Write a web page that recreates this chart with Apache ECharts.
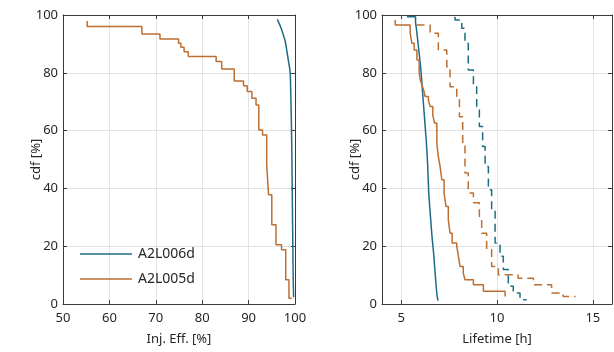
<!DOCTYPE html>
<html><head><meta charset="utf-8">
<script src="https://cdn.jsdelivr.net/npm/echarts@6/dist/echarts.min.js"></script>
<style>html,body{margin:0;padding:0;background:#fff}#c{width:614px;height:352px}</style>
</head><body><div id="c"></div>
<script>
// Left panel: injection efficiency survival-style cdf
var leftXTicks = [50, 60, 70, 80, 90, 100];
var yTicks = [0, 20, 40, 60, 80, 100];
var a006EffX = [96.2, 96.6, 97.0, 97.3, 97.6, 97.9, 98.1, 98.3, 98.5, 98.7, 98.9, 99.0, 99.1, 99.2, 99.3, 99.4, 99.5, 99.6, 99.7, 99.75];
var a006EffY = [98.5, 97.0, 95.5, 94.0, 92.5, 91.0, 89.0, 87.0, 85.0, 83.0, 81.0, 79.0, 72.0, 65.0, 55.0, 40.0, 25.0, 10.0, 2.3, 2.3];
var a005EffX = [55.2, 55.2, 67.0, 70.9, 74.9, 75.4, 76.1, 77.0, 83.0, 84.2, 86.9, 88.9, 89.7, 90.7, 91.6, 92.2, 93.0, 93.9, 94.3, 95.0, 95.9, 97.1, 98.0, 98.7, 99.3];
var a005EffY = [97.9, 96.0, 93.4, 91.7, 90.2, 88.8, 87.3, 85.6, 83.9, 81.3, 77.2, 75.5, 73.5, 71.2, 68.9, 60.2, 58.5, 48.2, 37.8, 27.4, 20.5, 18.8, 8.4, 2.0, 2.0];
// Right panel: lifetime
var rightXTicks = [5, 10, 15];
var a006LifeX = [5.3, 5.75, 5.8, 5.85, 5.9, 5.95, 6.0, 6.04, 6.08, 6.12, 6.16, 6.2, 6.24, 6.28, 6.32, 6.35, 6.38, 6.4, 6.42, 6.44, 6.48, 6.52, 6.56, 6.6, 6.65, 6.7, 6.74, 6.78, 6.82, 6.87, 6.92];
var a006LifeY = [99.4, 97.5, 95.0, 92.0, 89.0, 86.0, 83.0, 80.0, 76.5, 73.0, 69.5, 66.0, 62.5, 59.0, 55.5, 52.0, 48.5, 45.0, 41.5, 38.0, 34.5, 31.0, 27.5, 24.0, 20.5, 17.0, 13.5, 10.0, 6.5, 3.0, 1.2];
var a005LifeX = [4.69, 4.69, 5.47, 5.56, 5.68, 5.82, 5.94, 6.0, 6.08, 6.17, 6.25, 6.42, 6.51, 6.65, 6.74, 6.86, 6.94, 7.03, 7.12, 7.24, 7.34, 7.46, 7.55, 7.66, 7.9, 7.99, 8.07, 8.24, 8.33, 8.77, 9.29, 10.42];
var a005LifeY = [98.3, 96.5, 93.7, 90.2, 87.9, 84.4, 80.0, 77.5, 75.8, 74.1, 71.8, 70.6, 68.3, 65.4, 62.6, 55.6, 51.0, 47.6, 43.0, 38.4, 33.7, 29.1, 24.5, 21.1, 19.9, 16.5, 13.0, 10.7, 8.4, 6.7, 4.4, 2.6];
var a005LifeDX = [5.8, 6.51, 6.94, 7.38, 7.55, 7.9, 8.04, 8.21, 8.33, 8.5, 8.77, 9.08, 9.2, 9.46, 9.72, 10.07, 11.1, 11.9, 12.85, 13.45, 14.1];
var a005LifeDY = [96.5, 93.7, 87.9, 82.1, 75.2, 71.8, 64.8, 55.6, 45.3, 38.4, 35.0, 30.3, 24.5, 18.8, 13.0, 10.1, 8.9, 6.7, 3.8, 2.6, 2.6];
var a006LifeDX = [7.81, 7.81, 8.16, 8.33, 8.5, 8.77, 8.94, 9.08, 9.25, 9.38, 9.55, 9.72, 9.9, 10.16, 10.33, 10.59, 10.85, 11.2, 11.55];
var a006LifeDY = [99.4, 98.3, 95.4, 90.2, 81.0, 75.2, 68.3, 61.4, 54.5, 47.6, 39.5, 32.6, 21.1, 16.5, 11.9, 6.1, 3.8, 1.5, 1.5];

var teal = '#1b6c84', orange = '#bd6e31';
var txt = '#262626', boxc = '#3a3a3a', gridc = '#e3e3e3';
var font = 'Noto Sans';

function pairs(xs, ys) { return xs.map(function (x, i) { return [x, ys[i]]; }); }

function xAx(gi, min, max, interval, name, custom) {
  var main = {
    type: 'value', gridIndex: gi, min: min, max: max, position: 'bottom',
    name: name, nameLocation: 'middle', nameGap: 29, nameMoveOverlap: false,
    nameTextStyle: {color: txt, fontSize: 13, fontFamily: font},
    axisLine: {show: true, onZero: false, lineStyle: {color: boxc, width: 1}},
    axisTick: {show: true, inside: true, length: 4, lineStyle: {color: boxc}},
    axisLabel: {color: txt, fontSize: 13, fontFamily: font, margin: 8},
    splitLine: {show: true, lineStyle: {color: gridc, width: 1}}
  };
  var top = {
    type: 'value', gridIndex: gi, min: min, max: max, position: 'top',
    axisLine: {show: true, onZero: false, lineStyle: {color: boxc, width: 1}},
    axisTick: {show: true, inside: true, length: 4, lineStyle: {color: boxc}},
    axisLabel: {show: false}, splitLine: {show: false}
  };
  if (custom) {
    main.axisLabel.customValues = custom; main.axisTick.customValues = custom;
    top.axisTick.customValues = custom;
  } else { main.interval = interval; top.interval = interval; }
  return [main, top];
}
function yAx(gi) {
  return [{
    type: 'value', gridIndex: gi, min: 0, max: 100, interval: 20, position: 'left',
    name: 'cdf [%]', nameLocation: 'middle', nameGap: 20, nameRotate: 90, nameMoveOverlap: false,
    nameTextStyle: {color: txt, fontSize: 13, fontFamily: font},
    axisLine: {show: true, onZero: false, lineStyle: {color: boxc, width: 1}},
    axisTick: {show: true, inside: true, length: 4, lineStyle: {color: boxc}},
    axisLabel: {color: txt, fontSize: 13, fontFamily: font, margin: 5},
    splitLine: {show: true, lineStyle: {color: gridc, width: 1}}
  }, {
    type: 'value', gridIndex: gi, min: 0, max: 100, interval: 20, position: 'right',
    axisLine: {show: true, onZero: false, lineStyle: {color: boxc, width: 1}},
    axisTick: {show: true, inside: true, length: 4, lineStyle: {color: boxc}},
    axisLabel: {show: false}, splitLine: {show: false}
  }];
}

function ser(name, xi, yi, xs, ys, color, dashed) {
  return {
    name: name, type: 'line', step: 'end', xAxisIndex: xi, yAxisIndex: yi,
    data: pairs(xs, ys), symbol: 'none', silent: true, animation: false,
    lineStyle: {color: color, width: 1.5, type: dashed ? [8, 5] : 'solid'},
    itemStyle: {color: color}
  };
}

var chart = echarts.init(document.getElementById('c'), null, {renderer: 'canvas'});
chart.setOption({
  animation: false,
  backgroundColor: '#fff',
  grid: [
    {left: 63, right: 319, top: 15, bottom: 48},
    {left: 382, right: 2, top: 15, bottom: 48}
  ],
  xAxis: xAx(0, 50, 100, 10, 'Inj. Eff. [%]').concat(xAx(1, 4, 16, null, 'Lifetime [h]', rightXTicks)),
  yAxis: yAx(0).concat(yAx(1)),
  legend: {
    data: ['A2L006d', 'A2L005d'], orient: 'vertical', left: 75, top: 242,
    icon: 'rect', itemWidth: 52, itemHeight: 1.5, itemGap: 11,
    textStyle: {color: txt, fontSize: 14, fontFamily: font, padding: [0, 0, 0, 1]}
  },
  series: [
    ser('A2L006d', 0, 0, a006EffX, a006EffY, teal, false),
    ser('A2L005d', 0, 0, a005EffX, a005EffY, orange, false),
    ser('L006 solid', 2, 2, a006LifeX, a006LifeY, teal, false),
    ser('L005 solid', 2, 2, a005LifeX, a005LifeY, orange, false),
    ser('L005 dashed', 2, 2, a005LifeDX, a005LifeDY, orange, true),
    ser('L006 dashed', 2, 2, a006LifeDX, a006LifeDY, teal, true)
  ]
});
</script></body></html>
